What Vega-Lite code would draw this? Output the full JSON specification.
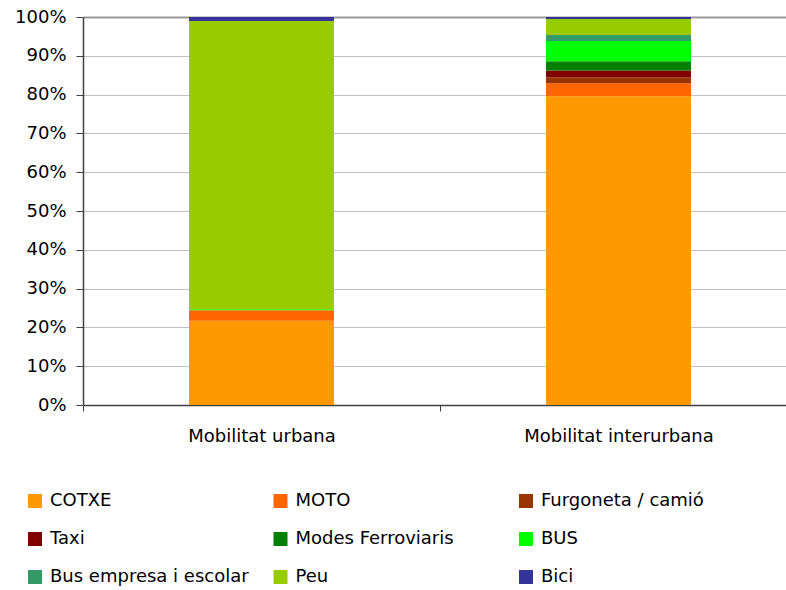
{
  "$schema": "https://vega.github.io/schema/vega-lite/v6.json",
  "autosize": {"type": "none"},
  "padding": {"left": 83, "top": 17, "right": 0, "bottom": 185},
  "width": 703,
  "height": 388,
  "background": "white",
  "config": {
    "view": {"stroke": null},
    "font": "DejaVu Sans",
    "axis": {"labelFont": "DejaVu Sans", "labelColor": "#000", "domainColor": "#404040", "tickColor": "#404040", "labelFontSize": 18}
  },
  "data": {"values": [
    {"cat": "Mobilitat urbana", "mode": "COTXE", "v": 21.7},
    {"cat": "Mobilitat urbana", "mode": "MOTO", "v": 2.7},
    {"cat": "Mobilitat urbana", "mode": "Furgoneta / camió", "v": 0},
    {"cat": "Mobilitat urbana", "mode": "Taxi", "v": 0},
    {"cat": "Mobilitat urbana", "mode": "Modes Ferroviaris", "v": 0},
    {"cat": "Mobilitat urbana", "mode": "BUS", "v": 0.3},
    {"cat": "Mobilitat urbana", "mode": "Bus empresa i escolar", "v": 0},
    {"cat": "Mobilitat urbana", "mode": "Peu", "v": 74.3},
    {"cat": "Mobilitat urbana", "mode": "Bici", "v": 1.0},
    {"cat": "Mobilitat interurbana", "mode": "COTXE", "v": 79.6},
    {"cat": "Mobilitat interurbana", "mode": "MOTO", "v": 3.35},
    {"cat": "Mobilitat interurbana", "mode": "Furgoneta / camió", "v": 1.55},
    {"cat": "Mobilitat interurbana", "mode": "Taxi", "v": 1.7},
    {"cat": "Mobilitat interurbana", "mode": "Modes Ferroviaris", "v": 2.4},
    {"cat": "Mobilitat interurbana", "mode": "BUS", "v": 5.2},
    {"cat": "Mobilitat interurbana", "mode": "Bus empresa i escolar", "v": 1.55},
    {"cat": "Mobilitat interurbana", "mode": "Peu", "v": 4.15},
    {"cat": "Mobilitat interurbana", "mode": "Bici", "v": 0.5}
  ]},
  "mark": {"type": "bar", "width": {"band": 0.406}},
  "encoding": {
    "x": {
      "field": "cat", "type": "nominal", "sort": ["Mobilitat urbana", "Mobilitat interurbana"],
      "scale": {"range": [0, 714], "paddingInner": 0, "paddingOuter": 0},
      "axis": {"title": null, "labelAngle": 0, "tickBand": "extent", "tickSize": 6, "labelPadding": 16, "labelLimit": 400, "domainWidth": 1.5, "grid": false}
    },
    "y": {
      "field": "v", "type": "quantitative", "stack": "zero",
      "scale": {"domain": [0, 100], "nice": false},
      "axis": {
        "title": null, "values": [0, 10, 20, 30, 40, 50, 60, 70, 80, 90, 100],
        "labelExpr": "datum.value + '%'", "tickSize": 7, "labelPadding": 10, "domainWidth": 1.5,
        "grid": true,
        "gridColor": {"condition": {"test": "datum.value === 100", "value": "#999999"}, "value": "#c0c0c0"},
        "gridWidth": {"condition": {"test": "datum.value === 100", "value": 2}, "value": 1}
      }
    },
    "color": {
      "field": "mode", "type": "nominal",
      "sort": ["COTXE", "MOTO", "Furgoneta / camió", "Taxi", "Modes Ferroviaris", "BUS", "Bus empresa i escolar", "Peu", "Bici"],
      "scale": {
        "domain": ["COTXE", "MOTO", "Furgoneta / camió", "Taxi", "Modes Ferroviaris", "BUS", "Bus empresa i escolar", "Peu", "Bici"],
        "range": ["#FF9900", "#FF6600", "#993300", "#800000", "#008000", "#00FF00", "#339966", "#99CC00", "#333399"]
      },
      "legend": {
        "title": null, "orient": "none", "direction": "horizontal", "legendX": -57, "legendY": 475,
        "columns": 3, "gridAlign": "all", "columnPadding": 22.5, "rowPadding": 20,
        "symbolType": "square", "symbolSize": 196, "symbolStrokeWidth": 0,
        "labelFontSize": 18, "labelFont": "DejaVu Sans", "labelColor": "#000", "labelOffset": 6, "labelLimit": 400
      }
    },
    "order": {"field": "mode_order_placeholder"}
  }
}
